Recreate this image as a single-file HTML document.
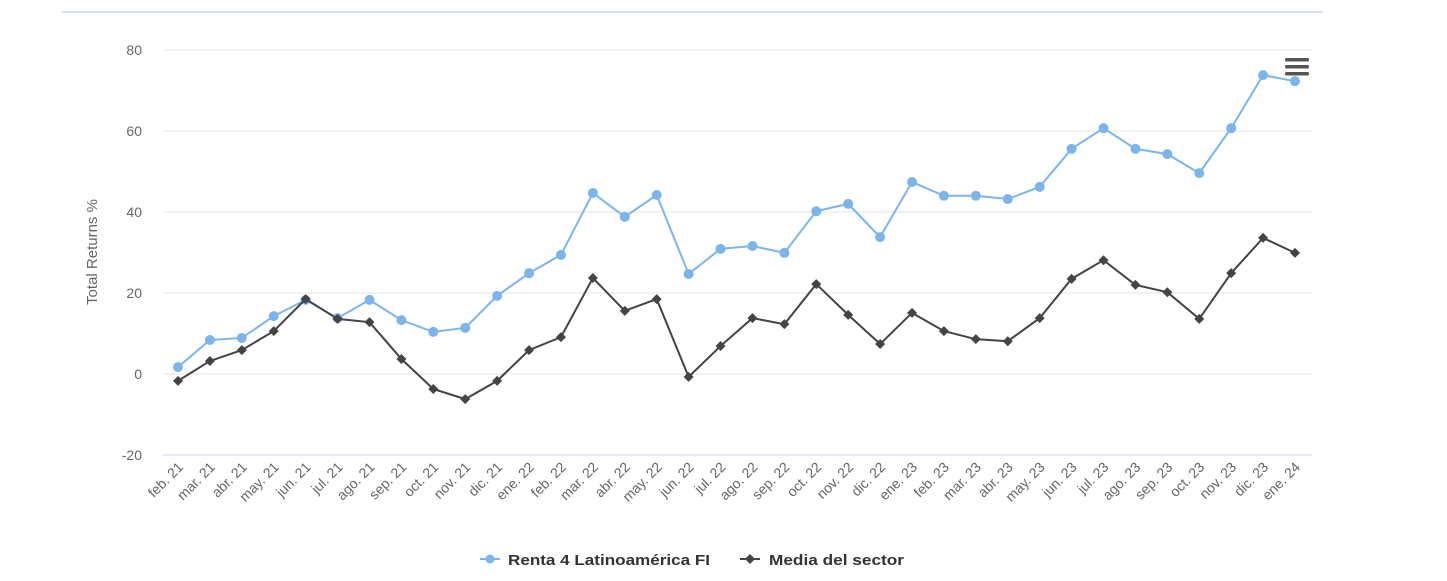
<!DOCTYPE html>
<html><head><meta charset="utf-8"><style>
html,body{margin:0;padding:0;background:#fff;}
svg{display:block;font-family:"Liberation Sans",sans-serif;}
</style></head><body>
<svg id="chart" width="1447" height="581">
<line x1="62" y1="12" x2="1323" y2="12" stroke="#ccd6eb" stroke-width="1.5"/>
<g id="grid"></g>
<g id="xlabels"></g>
<text transform="translate(97,252) rotate(-90)" text-anchor="middle" font-size="15" fill="#666">Total Returns %</text>
<g id="series"></g>
<g>
<rect x="1285" y="58" width="24" height="3.5" rx="1.5" fill="#555"/>
<rect x="1285" y="65" width="24" height="3.5" rx="1.5" fill="#555"/>
<rect x="1285" y="72" width="24" height="3.5" rx="1.5" fill="#555"/>
</g>
<g>
<line x1="480" y1="559" x2="500" y2="559" stroke="#7cb5ec" stroke-width="2"/>
<circle cx="490" cy="559" r="4.5" fill="#7cb5ec"/>
<text x="508" y="565" font-size="15" font-weight="bold" fill="#333" textLength="202" lengthAdjust="spacingAndGlyphs">Renta 4 Latinoamérica FI</text>
</g>
<g>
<line x1="740" y1="559" x2="760" y2="559" stroke="#434348" stroke-width="2"/>
<path d="M750 554 L755 559 L750 564 L745 559Z" fill="#434348"/>
<text x="769" y="565" font-size="15" font-weight="bold" fill="#333" textLength="135" lengthAdjust="spacingAndGlyphs">Media del sector</text>
</g>
</svg>
<script>
const categories=["feb. 21","mar. 21","abr. 21","may. 21","jun. 21","jul. 21","ago. 21","sep. 21","oct. 21","nov. 21","dic. 21","ene. 22","feb. 22","mar. 22","abr. 22","may. 22","jun. 22","jul. 22","ago. 22","sep. 22","oct. 22","nov. 22","dic. 22","ene. 23","feb. 23","mar. 23","abr. 23","may. 23","jun. 23","jul. 23","ago. 23","sep. 23","oct. 23","nov. 23","dic. 23","ene. 24"];
const fundValues=[1.7,8.4,8.9,14.3,18.3,13.8,18.3,13.3,10.4,11.4,19.3,24.9,29.4,44.7,38.8,44.2,24.7,30.9,31.6,29.9,40.2,42.0,33.8,47.4,44,44,43.2,46.2,55.6,60.7,55.6,54.3,49.6,60.7,73.8,72.3];
const sectorValues=[-1.7,3.2,5.9,10.6,18.5,13.6,12.8,3.7,-3.7,-6.2,-1.7,5.9,9.1,23.7,15.6,18.5,-0.7,6.9,13.8,12.3,22.2,14.6,7.4,15.1,10.6,8.6,8.1,13.8,23.5,28.1,22,20.2,13.6,24.9,33.6,29.9];
const yTicks=[-20,0,20,40,60,80];
const NS="http://www.w3.org/2000/svg";
const x0=178,x1=1295,yTop=50,yBot=455,vMin=-20,vMax=80;
function xs(i){return x0+(x1-x0)*i/(categories.length-1);}
function ys(v){return yBot-(v-vMin)/(vMax-vMin)*(yBot-yTop);}
function mk(tag,attrs,parent){const e=document.createElementNS(NS,tag);for(const k in attrs)e.setAttribute(k,attrs[k]);parent.appendChild(e);return e;}
const grid=document.getElementById('grid');
yTicks.forEach(v=>{
  const l=mk('line',{x1:163,x2:1312,y1:ys(v),y2:ys(v),stroke:v===-20?'#ccd6eb':'#e6e6e6','stroke-width':1},grid);
  
  
  const t=mk('text',{x:142,y:ys(v)+5,'text-anchor':'end','font-size':14,fill:'#666'},grid);
  t.textContent=v;
  
  
});
const xl=document.getElementById('xlabels');
categories.forEach((c,i)=>{
  const t=mk('text',{transform:`translate(${xs(i)+6},${468}) rotate(-45)`,'text-anchor':'end','font-size':14,fill:'#666'},xl);
  t.textContent=c;
  
  
});
const sg=document.getElementById('series');
function drawSeries(vals,color,diamond,name){
  const p=mk('path',{d:vals.map((v,i)=>(i?'L':'M')+xs(i)+' '+ys(v)).join(' '),fill:'none',stroke:color,'stroke-width':2},sg);
  
  
  vals.forEach((v,i)=>{
    const x=xs(i),y=ys(v);
    let m;
    if(diamond)m=mk('path',{d:`M${x} ${y-5}L${x+5} ${y}L${x} ${y+5}L${x-5} ${y}Z`,fill:color},sg);
    else m=mk('circle',{cx:x,cy:y,r:5,fill:color},sg);
    
    
  });
}
drawSeries(fundValues,'#7cb5ec',false,'fund');
drawSeries(sectorValues,'#434348',true,'sector');
</script>
</body></html>
